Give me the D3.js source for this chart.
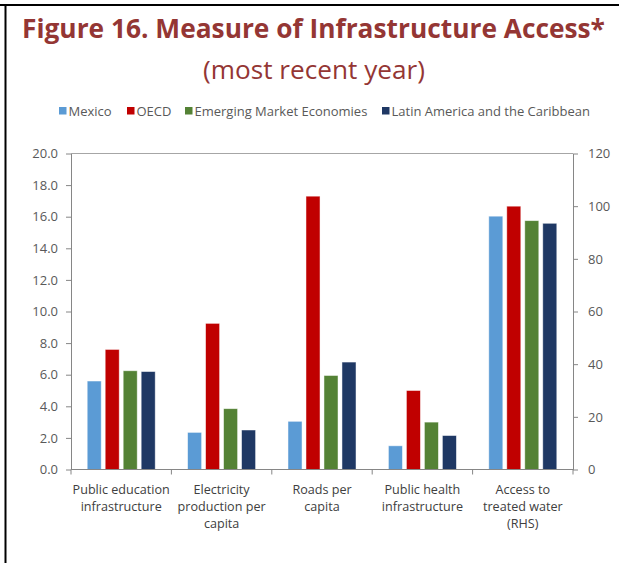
<!DOCTYPE html>
<html><head><meta charset="utf-8">
<script src="https://cdn.jsdelivr.net/npm/d3@7"></script>
<style>html,body{margin:0;padding:0;background:#fff;}svg{display:block;}</style>
</head><body>
<svg id="c" width="619" height="563"></svg>
<script>
const categories = [["Public education","infrastructure"],["Electricity","production per","capita"],["Roads per","capita"],["Public health","infrastructure"],["Access to","treated water","(RHS)"]];
const catKeys = ["edu","elec","roads","health","water"];
const seriesNames = ["Mexico","OECD","Emerging Market Economies","Latin America and the Caribbean"];
const seriesColors = ["#5B9BD5","#C00000","#548235","#1F3864"];
const mexico = [5.6, 2.35, 3.05, 1.5, 96.2];
const oecd = [7.6, 9.25, 17.3, 5.0, 100.0];
const eme = [6.25, 3.85, 5.95, 3.0, 94.5];
const lac = [6.2, 2.5, 6.8, 2.15, 93.5];
const leftTicks = [0,2,4,6,8,10,12,14,16,18,20];
const rightTicks = [0,20,40,60,80,100,120];
const rhsIndex = 4;

const svg = d3.select("#c");
const font = "'Open Sans', Lato, sans-serif";
const values = [mexico, oecd, eme, lac];

function fit(sel, target){
  const n = sel.node();
  const fs = +sel.attr("font-size");
  const w = n.getComputedTextLength();
  if (w > 0) sel.attr("font-size", fs*target/w);
}

// frame
svg.append("line").attr("x1",0).attr("x2",619).attr("y1",5).attr("y2",5).attr("stroke","#000").attr("stroke-width",2);
svg.append("line").attr("x1",5.5).attr("x2",5.5).attr("y1",6).attr("y2",563).attr("stroke","#000").attr("stroke-width",2);

// title
const t1 = svg.append("text").attr("x",313.5).attr("y",38).attr("text-anchor","middle")
  .attr("font-family",font).attr("font-weight","bold").attr("font-size",24).attr("fill","#943634")
  .text("Figure 16. Measure of Infrastructure Access*");
fit(t1, 583);
const t2 = svg.append("text").attr("x",314).attr("y",79).attr("text-anchor","middle")
  .attr("font-family",font).attr("font-size",22).attr("fill","#943634")
  .text("(most recent year)");
fit(t2, 222);

const L = 71, R = 573, T = 153.5, B = 469.5;
const x0 = d3.scaleBand().domain(catKeys).range([L,R]).padding(0);
const x1 = d3.scaleBand().domain(seriesNames).range([0,x0.bandwidth()]).paddingInner(0.22).paddingOuter(0.9);
const yL = d3.scaleLinear().domain([0,20]).range([B,T]);
const yR = d3.scaleLinear().domain([0,120]).range([B,T]);

// top border line of plot
svg.append("line").attr("x1",L).attr("x2",R).attr("y1",T).attr("y2",T).attr("stroke","#A6A6A6").attr("stroke-width",1);

// bars
seriesNames.forEach((s,si)=>{
  svg.append("g").selectAll("rect").data(values[si].map((v,i)=>({v,i}))).join("rect")
    .attr("x",d=>x0(catKeys[d.i])+x1(s))
    .attr("width",x1.bandwidth())
    .attr("y",d=>(d.i===rhsIndex?yR:yL)(d.v))
    .attr("height",d=>B-(d.i===rhsIndex?yR:yL)(d.v))
    .attr("fill",seriesColors[si])
    .attr("stroke","#fff").attr("stroke-opacity",0.6).attr("stroke-width",0.8);
});

// left axis
const gl = svg.append("g").attr("transform",`translate(${L},0)`)
  .call(d3.axisLeft(yL).tickValues(leftTicks).tickFormat(d3.format(".1f")).tickSizeInner(5).tickSizeOuter(0).tickPadding(8));
gl.select(".domain").attr("stroke","#868686");
gl.selectAll(".tick line").attr("stroke","#868686");
gl.selectAll(".tick text").attr("font-family",font).attr("font-size",13).attr("fill","#595959");

// right axis
const gr = svg.append("g").attr("transform",`translate(${R},0)`)
  .call(d3.axisRight(yR).tickValues(rightTicks).tickSizeInner(5).tickSizeOuter(0).tickPadding(10));
gr.select(".domain").attr("stroke","#868686");
gr.selectAll(".tick line").attr("stroke","#868686");
gr.selectAll(".tick text").attr("font-family",font).attr("font-size",13).attr("fill","#595959");

// bottom axis
svg.append("line").attr("x1",L).attr("x2",R).attr("y1",B).attr("y2",B).attr("stroke","#868686");
const bounds = catKeys.map(k=>x0(k)).concat([R]);
svg.append("g").selectAll("line").data(bounds).join("line")
  .attr("x1",d=>d).attr("x2",d=>d).attr("y1",B).attr("y2",B+5).attr("stroke","#868686");
const cl = svg.append("g").selectAll("text").data(categories).join("text")
  .attr("text-anchor","middle").attr("font-family",font).attr("font-size",12.6).attr("fill","#404040")
  .attr("x",(d,i)=>x0(catKeys[i])+x0.bandwidth()/2).attr("y",494);
cl.selectAll("tspan").data(d=>d).join("tspan")
  .attr("x",function(){return this.parentNode.getAttribute("x");})
  .attr("dy",(d,i)=>i===0?0:17).text(d=>d);

// legend
const legX = [59,127,185,382];
const lg = svg.append("g");
seriesNames.forEach((s,i)=>{
  lg.append("rect").attr("x",legX[i]).attr("y",107).attr("width",7.5).attr("height",7.5).attr("fill",seriesColors[i]);
  lg.append("text").attr("x",legX[i]+9.5).attr("y",115.5).attr("font-family",font).attr("font-size",13).attr("fill","#595959").text(s);
});
</script>
</body></html>
